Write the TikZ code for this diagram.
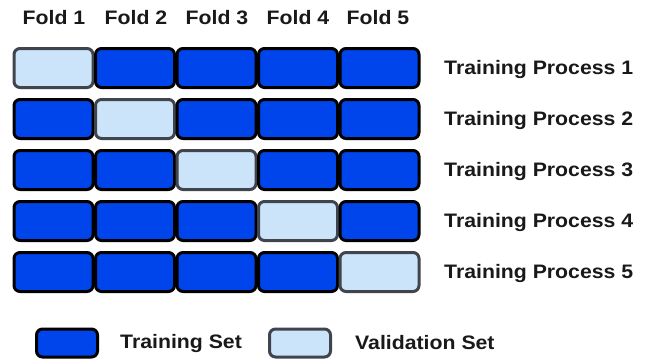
\documentclass[tikz,border=0pt]{standalone}
\usepackage{fontspec}
\setmainfont{Liberation Sans}[FakeStretch=1.09]
\begin{document}
\begin{tikzpicture}[x=1pt,y=-1pt,
  fold/.style={rectangle,rounded corners=6pt,line width=3pt,minimum width=79pt,minimum height=39pt,inner sep=0pt},
  trn/.style={fold,draw=black,fill=trainblue},
  val/.style={fold,draw=valborder,fill=valblue},
  lbl/.style={font=\fontsize{19.5}{22}\selectfont\bfseries,text=textgray,inner sep=0pt},
  leg/.style={rectangle,rounded corners=6pt,line width=3pt,minimum width=61pt,minimum height=28pt,inner sep=0pt}]
\definecolor{trainblue}{RGB}{0,68,235}
\definecolor{valblue}{RGB}{204,228,250}
\definecolor{valborder}{RGB}{64,68,76}
\definecolor{textgray}{RGB}{25,25,25}
\useasboundingbox (0,0) rectangle (648,362);
\fill[white] (0,0) rectangle (648,362);
% fold labels
\foreach \c/\x in {1/54,2/136,3/217,4/298,5/378}{
  \node[lbl] (f\c) at (\x,18) {Fold \c};
}
% grid
\foreach \r/\y in {1/68,2/119,3/170,4/221,5/272}{
  \foreach \c/\x in {1/53.5,2/135,3/216.5,4/298,5/379.5}{
    \ifnum\r=\c
      \node[val] (b\r\c) at (\x,\y) {};
    \else
      \node[trn] (b\r\c) at (\x,\y) {};
    \fi
  }
  \node[lbl,anchor=west] (p\r) at (444,\y+1) {Training Process \r};
}
% legend
\node[leg,draw=black,fill=trainblue] (lt) at (67,343) {};
\node[lbl,anchor=west] (ltt) at (120,343) {Training Set};
\node[leg,draw=valborder,fill=valblue] (lv) at (300,343) {};
\node[lbl,anchor=west] (lvt) at (355,343) {Validation Set};
\end{tikzpicture}
\end{document}
